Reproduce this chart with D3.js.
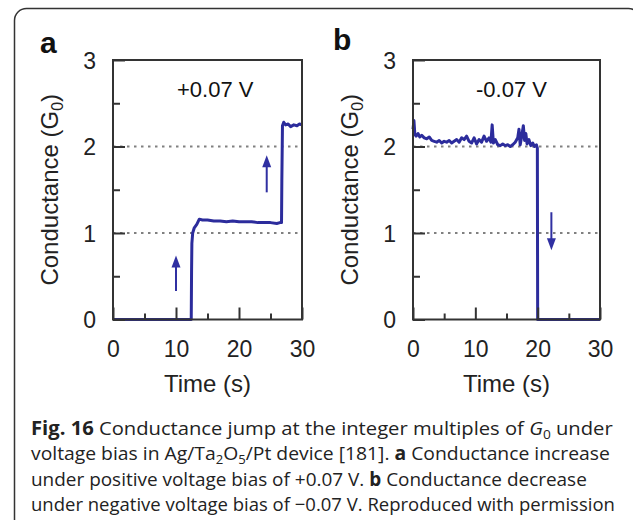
<!DOCTYPE html>
<html>
<head>
<meta charset="utf-8">
<script src="https://cdn.jsdelivr.net/npm/d3@7"></script>
<style>
  html, body { margin: 0; padding: 0; background: #fff; }
  svg { display: block; }
</style>
</head>
<body>
<svg id="chart" width="633" height="520"></svg>
<script>
// ---------- data ----------
const aTime = [0, 12.42, 12.47, 12.52, 12.65, 12.9, 13.3, 13.7, 14.2, 15.0, 16.0, 17.0, 18.0, 19.0, 20.0, 21.0, 22.0, 23.0, 24.0, 25.0, 26.0, 26.5, 26.75, 26.8, 26.9, 27.1, 27.4, 27.8, 28.2, 28.7, 29.2, 29.6, 30];
const aG    = [0, 0,     0.55,  0.88,  1.0,   1.06, 1.1,  1.16, 1.15, 1.15, 1.14, 1.14, 1.13, 1.14, 1.13, 1.13, 1.13, 1.12, 1.12, 1.12, 1.11, 1.12, 1.12, 1.6,  2.24, 2.28, 2.25, 2.26, 2.23, 2.25, 2.24, 2.26, 2.25];

const bTime = [0, 0.15, 0.3, 0.5, 0.8, 1.1, 1.4, 1.8, 2.2, 2.6, 3.0, 3.4, 3.8, 4.2, 4.6, 5.0, 5.4, 5.8, 6.2, 6.6, 7.0, 7.4, 7.8, 8.2, 8.6, 9.0, 9.4, 9.8, 10.2, 10.6, 11.0, 11.4, 11.8, 12.2, 12.5, 12.7, 12.9, 13.2, 13.6, 14.0, 14.4, 14.8, 15.2, 15.6, 16.0, 16.4, 16.8, 17.0, 17.2, 17.4, 17.7, 17.9, 18.1, 18.3, 18.6, 18.9, 19.2, 19.5, 19.8, 19.95, 20.0, 30];
const bG    = [2.2, 2.3, 2.14, 2.12, 2.15, 2.11, 2.13, 2.1, 2.09, 2.11, 2.07, 2.06, 2.05, 2.07, 2.04, 2.06, 2.05, 2.07, 2.04, 2.06, 2.08, 2.05, 2.1, 2.08, 2.12, 2.06, 2.04, 2.1, 2.03, 2.08, 2.05, 2.12, 2.06, 2.1, 2.05, 2.25, 2.04, 2.08, 2.02, 2.01, 2.03, 2.01, 2.02, 2.0, 2.02, 2.05, 2.1, 2.2, 2.02, 2.1, 2.24, 2.07, 2.15, 2.03, 2.08, 2.01, 2.04, 2.0, 2.02, 1.98, 0, 0];

const xTicks = [0, 5, 10, 15, 20, 25, 30];
const xTickLabels = [0, 10, 20, 30];
const yTicks = [0, 0.5, 1, 1.5, 2, 2.5, 3];
const yTickLabels = [0, 1, 2, 3];
const gridLevels = [1, 2];

const panelLetters = ["a", "b"];
const biasLabels = ["+0.07 V", "-0.07 V"];
// arrows: [time, startG, endG]
const aArrows = [[10, 0.33, 0.74], [24.4, 1.47, 1.9]];
const bArrows = [[22.2, 1.24, 0.8]];

const captionLines = [
  [{t: "Fig. 16", b: true}, {t: " Conductance jump at the integer multiples of "}, {t: "G", i: true}, {t: "0", sub: true}, {t: " under"}],
  [{t: "voltage bias in Ag/Ta"}, {t: "2", sub: true}, {t: "O"}, {t: "5", sub: true}, {t: "/Pt device [181]. "}, {t: "a", b: true}, {t: " Conductance increase"}],
  [{t: "under positive voltage bias of +0.07 V. "}, {t: "b", b: true}, {t: " Conductance decrease"}],
  [{t: "under negative voltage bias of \u22120.07 V. Reproduced with permission"}]
];
const captionLineEnds = [613, 610, 587, 615];

// ---------- drawing ----------
const svg = d3.select("#chart");
const lineColor = "#2c2c9c";
const arrowColor = "#3030a2";
const axisColor = "#333";
const chartFont = "'Liberation Sans', Arial, sans-serif";

// outer rounded frame
svg.append("rect")
  .attr("x", 14.5).attr("y", 8.5)
  .attr("width", 626).attr("height", 600)
  .attr("rx", 12).attr("ry", 12)
  .attr("fill", "none").attr("stroke", "#333").attr("stroke-width", 1.5);

const plotTop = 60, plotBottom = 319.5;
const panels = [
  {left: 113, right: 302, time: aTime, g: aG, arrows: aArrows, letter: panelLetters[0], bias: biasLabels[0]},
  {left: 413, right: 600, time: bTime, g: bG, arrows: bArrows, letter: panelLetters[1], bias: biasLabels[1]}
];

panels.forEach((p, idx) => {
  const x = d3.scaleLinear().domain([0, 30]).range([p.left, p.right]);
  const y = d3.scaleLinear().domain([0, 3]).range([plotBottom, plotTop]);
  const g = svg.append("g");

  // gridlines
  g.selectAll(".grid").data(gridLevels).enter().append("line")
    .attr("x1", p.left).attr("x2", p.right)
    .attr("y1", d => y(d)).attr("y2", d => y(d))
    .attr("stroke", "#808080").attr("stroke-width", 2)
    .attr("stroke-dasharray", "2.5,4.5");

  // trace
  const line = d3.line().x(d => x(d[0])).y(d => y(d[1]));
  g.append("path")
    .datum(p.time.map((t, i) => [t, p.g[i]]))
    .attr("d", line)
    .attr("fill", "none")
    .attr("stroke", lineColor)
    .attr("stroke-width", 3)
    .attr("stroke-linejoin", "round");

  // arrows
  p.arrows.forEach(a => {
    const ax = x(a[0]), y0 = y(a[1]), y1 = y(a[2]);
    const dir = y1 < y0 ? -1 : 1; // -1 upward
    const headLen = 12, headHalf = 4.5;
    g.append("line")
      .attr("x1", ax).attr("x2", ax)
      .attr("y1", y0).attr("y2", y1 - dir * (headLen - 2))
      .attr("stroke", arrowColor).attr("stroke-width", 2);
    g.append("path")
      .attr("d", `M${ax},${y1} L${ax - headHalf},${y1 - dir * headLen} L${ax + headHalf},${y1 - dir * headLen} Z`)
      .attr("fill", arrowColor);
  });

  // x axis
  const xAxis = d3.axisBottom(x).tickValues(xTicks)
    .tickFormat(d => xTickLabels.includes(d) ? d : "");
  const gx = g.append("g").attr("transform", `translate(0,${plotBottom})`).call(xAxis);
  gx.select(".domain").remove();
  gx.selectAll(".tick line")
    .attr("y2", d => xTickLabels.includes(d) ? -12 : -6)
    .attr("stroke", axisColor).attr("stroke-width", 2);
  gx.selectAll(".tick text")
    .attr("y", 37).attr("dy", 0)
    .attr("font-family", chartFont).attr("font-size", 23).attr("fill", "#222");

  // y axis
  const yAxis = d3.axisLeft(y).tickValues(yTicks)
    .tickFormat(d => yTickLabels.includes(d) ? d : "");
  const gy = g.append("g").attr("transform", `translate(${p.left},0)`).call(yAxis);
  gy.select(".domain").remove();
  gy.selectAll(".tick line")
    .attr("x2", d => yTickLabels.includes(d) ? 12 : 7)
    .attr("stroke", axisColor).attr("stroke-width", 2);
  gy.selectAll(".tick text")
    .attr("x", -17).attr("dy", "0.36em")
    .attr("font-family", chartFont).attr("font-size", 23).attr("fill", "#222");

  // frame
  g.append("rect")
    .attr("x", p.left).attr("y", plotTop)
    .attr("width", p.right - p.left).attr("height", plotBottom - plotTop)
    .attr("fill", "none").attr("stroke", axisColor).attr("stroke-width", 2);

  // axis titles
  g.append("text")
    .attr("x", (p.left + p.right) / 2).attr("y", 392)
    .attr("text-anchor", "middle")
    .attr("font-family", chartFont).attr("font-size", 24).attr("fill", "#222")
    .text("Time (s)");

  const yt = g.append("text")
    .attr("transform", `translate(${p.left - 55},${(plotTop + plotBottom) / 2}) rotate(-90)`)
    .attr("text-anchor", "middle")
    .attr("font-family", chartFont).attr("font-size", 24).attr("fill", "#222");
  yt.append("tspan").text("Conductance (G");
  yt.append("tspan").attr("font-size", 16).attr("dy", 5).text("0");
  yt.append("tspan").attr("dy", -5).text(")");

  // panel letter
  g.append("text")
    .attr("x", idx === 0 ? 40 : 333).attr("y", idx === 0 ? 53 : 50)
    .attr("font-family", chartFont).attr("font-weight", "bold")
    .attr("font-size", 30).attr("fill", "#111")
    .text(p.letter);

  // bias label
  g.append("text")
    .attr("x", (idx === 0 ? 177 : 476)).attr("y", 97)
    .attr("font-family", chartFont).attr("font-size", 22).attr("fill", "#111")
    .text(p.bias);
});

// caption: each line is stretched horizontally to the width it has in the figure
const capFont = "'Open Sans', 'Noto Sans', sans-serif";
const capLeft = 31, capFirstBaseline = 435, capLineStep = 25.3, capSize = 19;
captionLines.forEach((segs, i) => {
  const t = svg.append("text").attr("class", "caption")
    .attr("x", 0).attr("y", 0)
    .attr("font-family", capFont).attr("font-size", capSize).attr("fill", "#222");
  let shifted = 0;
  segs.forEach(s => {
    const ts = t.append("tspan").text(s.t);
    if (s.b) ts.attr("font-weight", "bold");
    if (s.i) ts.attr("font-style", "italic");
    if (s.sub) {
      ts.attr("font-size", capSize * 0.68).attr("dy", 4 - shifted);
      shifted = 4;
    } else if (shifted) {
      ts.attr("dy", -shifted);
      shifted = 0;
    }
  });
  const w = t.node().getComputedTextLength();
  const sx = (captionLineEnds[i] - capLeft) / w;
  t.attr("transform", `translate(${capLeft},${capFirstBaseline + i * capLineStep}) scale(${sx},1)`);
});
</script>
</body>
</html>
